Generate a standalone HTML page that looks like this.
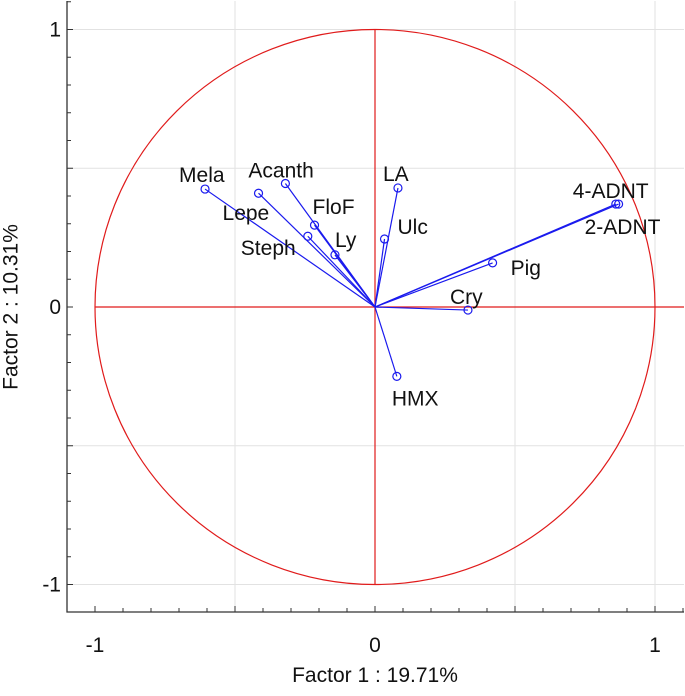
<!DOCTYPE html>
<html><head><meta charset="utf-8"><style>
html,body{margin:0;padding:0;background:#fff;}
svg text{font-family:"Liberation Sans",sans-serif;fill:#111;}
</style></head><body>
<svg id="chart" width="685" height="691" xmlns="http://www.w3.org/2000/svg">
<g id="grid"></g>
<g id="axes"></g>
<g id="marks"></g>
<text x="375" y="682" font-size="21" text-anchor="middle">Factor 1 : 19.71%</text>
<text transform="translate(12,307) rotate(-90)" font-size="21" text-anchor="middle" dominant-baseline="middle">Factor 2 : 10.31%</text>
</svg>
<script>
const variables = ["Mela","Lepe","Acanth","FloF","Steph","Ly","LA","Ulc","4-ADNT","2-ADNT","Pig","Cry","HMX"];
const factor1 = [-0.607,-0.416,-0.32,-0.216,-0.24,-0.143,0.082,0.034,0.86,0.87,0.42,0.332,0.078];
const factor2 = [0.425,0.41,0.445,0.295,0.255,0.188,0.429,0.245,0.371,0.371,0.159,-0.011,-0.25];
const ticks = [-1,0,1];
const tickLabels = ["-1","0","1"];
// label offsets (styling)
const ldx = [-26,-36,-37,-2,-67,0,-15,13,-43,-34,18,-18,-5];
const ldy = [-7,27,-6,-11,19,-8,-7,-5,-6,30,12,-6,29];

const NS="http://www.w3.org/2000/svg";
const X0=375,XS=280,Y0=307,YS=277.5;
const L=67,R=684,T=1,B=612;
const sx=v=>X0+v*XS, sy=v=>Y0-v*YS;
function mk(p,tag,a){const e=document.createElementNS(NS,tag);for(const k in a)e.setAttribute(k,a[k]);p.appendChild(e);return e;}
const grid=document.getElementById('grid'),axes=document.getElementById('axes'),marks=document.getElementById('marks');
[-0.5,0.5,1].forEach(v=>{
 const g1=mk(grid,'line',{x1:sx(v),x2:sx(v),y1:T,y2:B,stroke:'#e2e2e2','stroke-width':1});
 
});
[-1,-0.5,0.5,1].forEach(v=>{
 const g2=mk(grid,'line',{x1:L,x2:R,y1:sy(v),y2:sy(v),stroke:'#e2e2e2','stroke-width':1});
 
});
const fr=mk(axes,'path',{d:`M${L},${T}V${B}H${R}`,fill:'none',stroke:'#333','stroke-width':1.3});

for(let i=-12;i<=11;i++){const v=i/10;const x=sx(v);if(x<L||x>R)continue;
 const t=mk(axes,'line',{x1:x,x2:x,y1:B,y2:B-(i%5==0?6:4),stroke:'#333'});
 }
for(let i=-11;i<=11;i++){const v=i/10;const y=sy(v);if(y<T||y>B)continue;
 const t=mk(axes,'line',{x1:L,x2:L+(i%5==0?6:4),y1:y,y2:y,stroke:'#333'});
 }
ticks.forEach((v,i)=>{
 const a=mk(axes,'text',{x:sx(v),y:652,'font-size':21,'text-anchor':'middle'});a.textContent=tickLabels[i];
 
 const b=mk(axes,'text',{x:61,y:sy(v)+7,'font-size':21,'text-anchor':'end'});b.textContent=tickLabels[i];
 
});
const c=mk(marks,'ellipse',{cx:sx(0),cy:sy(0),rx:XS,ry:YS,fill:'none',stroke:'#e01b1b','stroke-width':1.2});

const h=mk(marks,'line',{x1:sx(-1),x2:R,y1:sy(0),y2:sy(0),stroke:'#e01b1b','stroke-width':1.2});

const vl=mk(marks,'line',{x1:sx(0),x2:sx(0),y1:sy(1),y2:sy(-1),stroke:'#e01b1b','stroke-width':1.2});

variables.forEach((n,i)=>{
 const x=sx(factor1[i]),y=sy(factor2[i]);
 const ln=mk(marks,'line',{x1:sx(0),y1:sy(0),x2:x,y2:y,stroke:'#1a1aee','stroke-width':1.2});
 
 const pt=mk(marks,'circle',{cx:x,cy:y,r:4,fill:'none',stroke:'#1a1aee','stroke-width':1.2});
 
 const tx=mk(marks,'text',{x:x+ldx[i],y:y+ldy[i],'font-size':21});tx.textContent=n;
 
});
</script>
</body></html>
